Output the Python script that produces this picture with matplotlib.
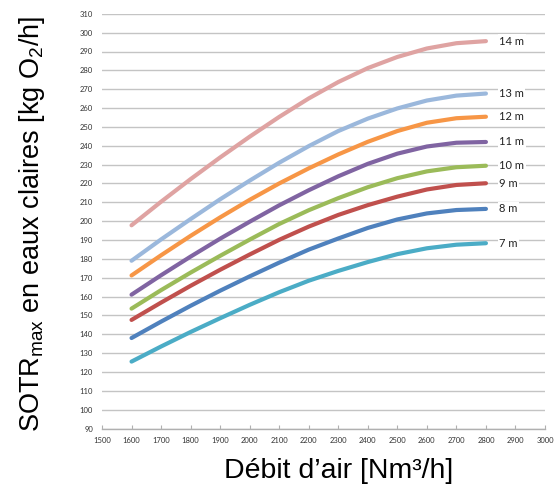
import matplotlib
matplotlib.use("Agg")
import matplotlib.pyplot as plt

# air flow (Nm3/h) and SOTRmax curves per immersion depth
debit = [1600, 1700, 1800, 1900, 2000, 2100, 2200, 2300, 2400, 2500, 2600, 2700, 2800]
sotr_7m = [125.5, 133.5, 141.2, 148.5, 155.6, 162.3, 168.4, 173.6, 178.3, 182.5, 185.6, 187.5, 188.3]
sotr_8m = [138.0, 146.7, 155.1, 163.1, 170.7, 178.0, 184.9, 190.8, 196.4, 200.9, 204.1, 205.9, 206.5]
sotr_9m = [147.6, 156.8, 165.7, 174.2, 182.3, 190.1, 197.1, 203.3, 208.5, 213.0, 216.8, 219.2, 220.1]
sotr_10m = [153.6, 163.4, 172.7, 181.6, 190.2, 198.5, 205.8, 212.2, 218.0, 222.8, 226.4, 228.6, 229.4]
sotr_11m = [161.0, 171.3, 181.2, 190.7, 199.7, 208.4, 216.4, 223.8, 230.4, 235.8, 239.6, 241.6, 242.0]
sotr_12m = [171.2, 181.9, 192.2, 202.0, 211.3, 220.0, 228.0, 235.4, 242.1, 247.8, 252.2, 254.6, 255.4]
sotr_13m = [179.0, 190.3, 201.1, 211.6, 221.5, 231.0, 239.8, 247.8, 254.4, 259.8, 264.0, 266.6, 267.7]
sotr_14m = [197.8, 210.3, 222.3, 233.8, 244.8, 255.3, 265.1, 273.8, 281.2, 287.1, 291.6, 294.4, 295.5]

labels = ["7 m", "8 m", "9 m", "10 m", "11 m", "12 m", "13 m", "14 m"]
series = [sotr_7m, sotr_8m, sotr_9m, sotr_10m, sotr_11m, sotr_12m, sotr_13m, sotr_14m]
colors = ["#4BACC6", "#4F81BD", "#C0504D", "#9BBB59", "#8064A2", "#F79646", "#9BB8DC", "#DFA3A2"]

x_ticks = list(range(1500, 3001, 100))
y_ticks = list(range(90, 311, 10))

plt.rcParams['mathtext.fontset'] = 'custom'
plt.rcParams['mathtext.rm'] = 'Liberation Sans'
plt.rcParams['mathtext.it'] = 'Liberation Sans'

fig = plt.figure(figsize=(5.6, 4.91), dpi=100)
ax = fig.add_axes([102 / 560, 1 - 428.5 / 491, 443 / 560, 414.7 / 491])

for lab, vals, col in zip(labels, series, colors):
    ax.plot(debit, vals, color=col, lw=3.0, solid_capstyle='round',
            solid_joinstyle='round', zorder=3)
    ax.text(2845, vals[-1], lab, fontsize=8, family='Lato', color='#222222',
            ha='left', va='center', zorder=4,
            bbox=dict(facecolor='white', edgecolor='none', pad=1.0))

ax.set_xlim(1500, 3000)
ax.set_ylim(90, 310)
ax.set_xticks(x_ticks)
ax.set_yticks(y_ticks)
ax.grid(axis='y', color='#c4c4c4', lw=1.0, zorder=1)
for s in ['top', 'right', 'left']:
    ax.spines[s].set_visible(False)
ax.spines['bottom'].set_color('#b0b0b0')
ax.spines['bottom'].set_linewidth(1.0)
ax.tick_params(axis='x', direction='in', length=3, color='#b0b0b0', pad=6,
               labelsize=5.5, labelcolor='#333333')
ax.tick_params(axis='y', length=0, pad=6.5, labelsize=5.5, labelcolor='#333333')
for t in ax.get_xticklabels() + ax.get_yticklabels():
    t.set_family('Lato')

fig.text(338.5 / 560, 1 - 471 / 491, "Débit d\u2019air [Nm\u00b3/h]", fontsize=20.5,
         family='Liberation Sans', ha='center', va='center')
fig.text(32 / 560, 1 - 224 / 491, r"SOTR$_{\mathrm{max}}$ en eaux claires [kg O$_2$/h]",
         fontsize=19.5, family='Liberation Sans', rotation=90, ha='center', va='center')

fig.savefig("out.png", dpi=100)
